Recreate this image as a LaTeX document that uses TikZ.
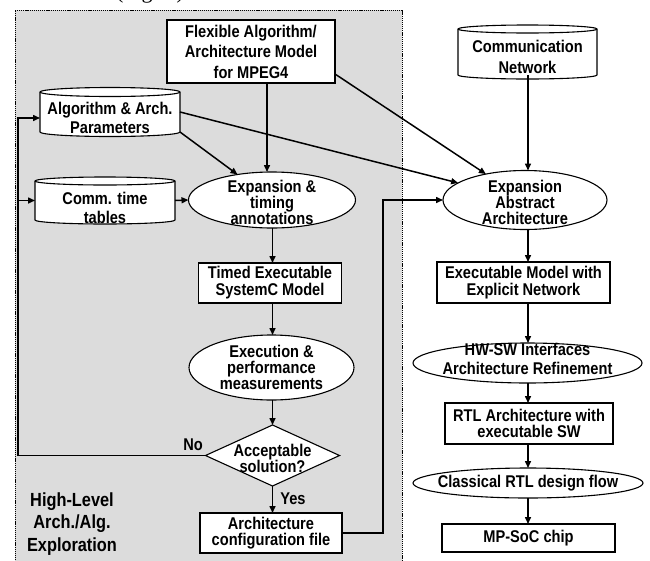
\documentclass[tikz,border=0pt]{standalone}
\usepackage{fontspec}
\setmainfont[FakeStretch=0.86]{Liberation Sans}
\newfontfamily\serifcap{Liberation Serif}
\usetikzlibrary{arrows.meta,shapes.geometric,calc}
\pgfdeclarelayer{back}
\pgfdeclarelayer{mid}
\pgfsetlayers{back,mid,main}
\definecolor{bggray}{RGB}{220,220,220}
\newcommand{\drawcyl}[3]{%
  \begin{pgfonlayer}{mid}
  \draw[line width=1.1pt, fill=white] (#1.north west) -- (#1.south west)
    arc[start angle=180, end angle=360, x radius=#2pt, y radius=#3pt]
    -- (#1.north east)
    arc[start angle=0, end angle=180, x radius=#2pt, y radius=#3pt] -- cycle;
  \draw[line width=1.1pt] (#1.north west)
    arc[start angle=180, end angle=360, x radius=#2pt, y radius=#3pt];
  \end{pgfonlayer}}
\begin{document}
\begin{tikzpicture}[x=1pt, y=-1pt,
  every node/.style={inner sep=0pt, outer sep=0pt, align=center, font=\bfseries\fontsize{17}{17}\selectfont},
  box/.style={draw, line width=1.1pt, fill=white, rectangle},
  oval/.style={draw, line width=1.1pt, fill=white, ellipse},
  choice/.style={draw, line width=1.1pt, fill=white, diamond},
  cylbody/.style={rectangle},
  arr/.style={line width=1.5pt, -{Triangle[length=7pt,width=6pt]}},
  ovaltext/.style={font=\bfseries\fontsize{17}{16}\selectfont}]
\useasboundingbox (0,0) rectangle (650,560);
\begin{pgfonlayer}{back}
\fill[bggray] (15,10) rectangle (402,575);
\draw[line width=0.6pt, dash pattern=on 1.2pt off 0.9pt] (15,575) -- (15,10) -- (402,10) -- (402,575);
\end{pgfonlayer}
\node[anchor=base west, font=\serifcap\fontsize{22}{22}\selectfont] (figcap) at (116,-1.5) {(Fig. 2)};
% left part
\node[box, minimum width=168pt, minimum height=63pt, font=\bfseries\fontsize{17}{20.5}\selectfont] (flex) at (251,51.5) {Flexible Algorithm/\\Architecture Model\\for MPEG4};
\node[cylbody, minimum width=140pt, minimum height=40pt, label={[yshift=-6pt, font=\bfseries\fontsize{17}{19}\selectfont]center:Algorithm \& Arch.\\Parameters}] (alg) at (110,112) {};
\node[cylbody, minimum width=140pt, minimum height=39pt, label={[yshift=-7pt, font=\bfseries\fontsize{17}{19}\selectfont]center:Comm. time\\tables}] (comm) at (105,200.5) {};
\node[oval, minimum width=167pt, minimum height=56pt, label={[ovaltext, yshift=-2pt]center:Expansion \&\\timing\\annotations}] (exp1) at (272,200) {};
\node[box, minimum width=143pt, minimum height=40pt] (timed) at (270,283) {Timed Executable\\SystemC Model};
\node[oval, minimum width=165pt, minimum height=65pt, label={[ovaltext]center:Execution \&\\performance\\measurements}] (exec) at (271.5,367.5) {};
\node[choice, minimum width=134pt, minimum height=61pt, label={[ovaltext, yshift=-3pt]center:Acceptable\\solution?}] (acc) at (272.5,455.5) {};
\node[box, minimum width=142pt, minimum height=40pt, font=\bfseries\fontsize{17}{16.5}\selectfont] (arch) at (271,533) {Architecture\\configuration file};
\node (no) at (193,445) {No};
\node (yes) at (293,499) {Yes};
\node[font=\bfseries\fontsize{19}{22.5}\selectfont] (hl) at (72,524) {High-Level\\Arch./Alg.\\Exploration};
% right part
\node[cylbody, minimum width=139pt, minimum height=46pt, label={[yshift=-5pt, font=\bfseries\fontsize{17}{21}\selectfont]center:Communication\\Network}] (cn) at (527.5,52) {};
\node[oval, minimum width=164pt, minimum height=59pt, label={[ovaltext, yshift=-2pt]center:Expansion\\Abstract\\Architecture}] (exp2) at (525,200) {};
\node[box, minimum width=173pt, minimum height=41pt] (exm) at (523.5,282.5) {Executable Model with\\Explicit Network};
\node[oval, minimum width=229pt, minimum height=40pt, label={[yshift=4pt, font=\bfseries\fontsize{17}{18.5}\selectfont]center:HW-SW Interfaces\\Architecture Refinement}] (hw) at (527.5,363) {};
\node[box, minimum width=168pt, minimum height=41pt, font=\bfseries\fontsize{17}{16}\selectfont] (rtl) at (529,423.5) {RTL Architecture with\\executable SW};
\node[oval, minimum width=230pt, minimum height=30pt, label={[ovaltext]center:Classical RTL design flow}] (cls) at (528,483) {};
\node[box, minimum width=173pt, minimum height=28pt] (mp) at (528.5,538) {MP-SoC chip};
% cylinders
\drawcyl{alg}{70}{4.5}
\drawcyl{comm}{70}{4}
\drawcyl{cn}{69.5}{4}
% connectors
\coordinate (lx) at (272.5,0);
\coordinate (rx) at (528,0);
\coordinate (fx) at (267,0);
\coordinate (fbA) at (18,118);
\coordinate (rtA) at (383,200);
\draw[arr] (flex.south -| fx) -- (exp1.north -| fx);
\draw[arr] ($(flex.south east)+(0,-9)$) -- (exp2);
\draw[arr] (alg.east) -- (exp2);
\draw[arr] (alg.south east) -- (exp1);
\draw[arr] (comm.east) -- (exp1.west);
\draw[arr] (exp1.south -| lx) -- (timed.north -| lx);
\draw[arr] (timed.south -| lx) -- (exec.north -| lx);
\draw[arr] (exec.south -| lx) -- (acc.north -| lx);
\draw[arr] (acc.south -| lx) -- (arch.north -| lx);
\draw[arr] (acc.west) -| (fbA) -- (fbA -| alg.west);
\draw[arr] (fbA |- comm.west) -- (comm.west);
\draw[arr] (arch.east) -| (rtA) -- (exp2.west);
\draw[arr] (cn.south -| rx) -- (exp2.north -| rx);
\draw[arr] (exp2.south -| rx) -- (exm.north -| rx);
\draw[arr] (exm.south -| rx) -- (hw.north -| rx);
\draw[arr] (hw.south -| rx) -- (rtl.north -| rx);
\draw[arr] (rtl.south -| rx) -- (cls.north -| rx);
\draw[arr] (cls.south -| rx) -- (mp.north -| rx);
\end{tikzpicture}
\end{document}
